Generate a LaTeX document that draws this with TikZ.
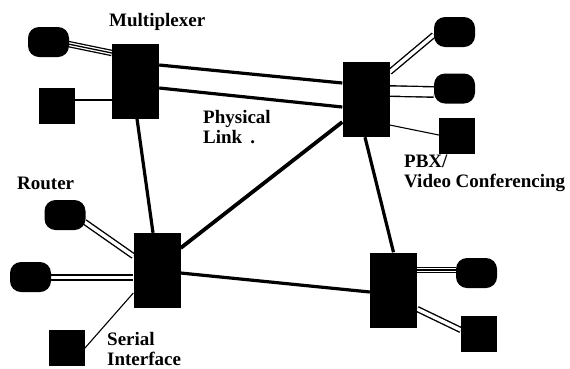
\documentclass[tikz,border=0pt]{standalone}
\usepackage{fontspec}
\setmainfont{Liberation Serif}
\usetikzlibrary{calc,backgrounds}
\begin{document}
\begin{tikzpicture}[x=1pt,y=-1pt,
  hub/.style={fill=black,minimum width=47pt,minimum height=75pt,inner sep=0pt},
  term/.style={fill=black,rounded corners=11pt,minimum width=41pt,minimum height=30pt,inner sep=0pt},
  sq/.style={fill=black,minimum width=36pt,minimum height=36pt,inner sep=0pt},
  link/.style={line width=3.2pt},
  thinline/.style={line width=1.1pt},
  dbl/.style={draw=black,line width=1.4pt,double=white,double distance=3.5pt},
  trip/.style={line width=6.5pt,postaction={draw=white,line width=3.9pt},postaction={draw=black,line width=1.3pt}},
  lbl/.style={font=\bfseries\fontsize{19}{20}\selectfont,inner sep=0pt,anchor=north west,align=left}
]
\useasboundingbox (0,0) rectangle (570,368);

% network hubs
\node[hub] (M) at (135.5,81) {};
\node[hub] (T) at (366,99.5) {};
\node[hub] (R) at (157,270.5) {};
\node[hub] (L) at (393.5,290) {};

% attached equipment
\node[term] (m1) at (48.5,42) {};
\node[sq]   (m2) at (56.5,106) {};
\node[term] (t1) at (454.5,32) {};
\node[term] (t2) at (454.5,88.5) {};
\node[sq]   (t3) at (457,135.5) {};
\node[term] (r1) at (65,215) {};
\node[term] (r2) at (30.5,277) {};
\node[sq]   (r3) at (67,347.5) {};
\node[term] (l1) at (476.5,273) {};
\node[sq]   (l2) at (479,333.5) {};

% labels
\node[lbl] (lmux) at (109,13) {Multiplexer};
\node[lbl] (llink) at (203,110) {Physical\\Link\hspace{8pt}.};
\node[lbl] (lrouter) at (17,177) {Router};
\node[lbl] (lpbx) at (404,155) {PBX/\\Video Conferencing};
\node[lbl] (lser) at (107,332) {Serial\\Interface};

\begin{scope}[on background layer]
  % physical links between hubs
  \draw[link] ($(M.east)+(0,-16)$) -- ($(T.west)+(0,-16.5)$);
  \draw[link] ($(M.east)+(0,7)$) -- ($(T.west)+(0,7.5)$);
  \draw[link] ($(M.south)+(1.5,0)$) -- ($(R.north)+(-4,0)$);
  \draw[link,line width=3.8pt] ($(R.east)+(0,-22.5)$) -- ($(T.west)+(0,22.5)$);
  \draw[link] ($(R.east)+(0,2.5)$) -- ($(L.west)+(0,2)$);
  \draw[link] ($(T.south)+(-1,0)$) -- (L.north);

  % local attachments
  \draw[trip] ($(m1.east)+(-1,2)$) -- ($(M.west)+(0,-28)$);
  \draw[thinline] ($(m2.east)+(0,-6)$) -- ($(M.west)+(0,19)$);
  \draw[dbl] ($(T.east)+(0,-27.5)$) -- ($(t1.west)+(0,3)$);
  \draw[dbl,double distance=9pt] ($(T.east)+(0,-8.5)$) -- ($(t2.west)+(0,3.5)$);
  \draw[thinline] ($(T.east)+(0,25.5)$) -- ($(t3.west)+(0,-0.5)$);
  \draw[dbl] ($(r1.east)+(-1,7)$) -- ($(R.west)+(0,-14.5)$);
  \draw[dbl] ($(r2.east)+(0,0.5)$) -- ($(R.west)+(0,7)$);
  \draw[thinline] ($(r3.east)+(-2,2.5)$) -- ($(R.west)+(0,22.5)$);
  \draw[trip] ($(L.east)+(0,-20)$) -- ($(l1.west)+(0,-3)$);
  \draw[dbl] ($(L.east)+(0,19)$) -- ($(l2.west)+(0,-3.5)$);
\end{scope}
\end{tikzpicture}
\end{document}
